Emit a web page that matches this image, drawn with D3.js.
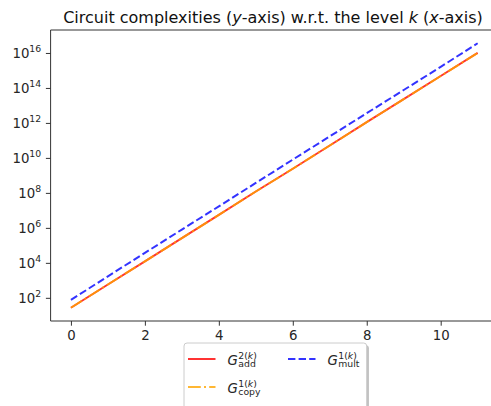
<!DOCTYPE html>
<html>
<head>
<meta charset="utf-8">
<script src="https://cdn.jsdelivr.net/npm/d3@7"></script>
<style>
  body { margin: 0; background: #fff; }
  svg { display: block; font-family: "DejaVu Sans", sans-serif; }
</style>
</head>
<body>
<svg id="chart" width="491" height="406"></svg>
<script>
// levels k on the x axis
const levels = [0, 1, 2, 3, 4, 5, 6, 7, 8, 9, 10, 11];

// circuit complexities
const gAdd  = [2.7e1, 5.8e2, 1.2e4, 2.6e5, 5.5e6, 1.2e8, 2.4e9, 5.1e10, 1.1e12, 2.3e13, 4.8e14, 1.0e16];
const gCopy = [2.7e1, 5.8e2, 1.2e4, 2.6e5, 5.5e6, 1.2e8, 2.4e9, 5.1e10, 1.1e12, 2.3e13, 4.8e14, 1.0e16];
const gMult = [7.6e1, 1.7e3, 3.7e4, 8.0e5, 1.7e7, 3.7e8, 8.0e9, 1.7e11, 3.6e12, 7.6e13, 1.6e15, 3.6e16];

const xTicks = [0, 2, 4, 6, 8, 10];
const yTickExps = [2, 4, 6, 8, 10, 12, 14, 16];

const svg = d3.select("#chart");

// axes box (right edge lies outside the picture, as in the original)
const margin = { left: 50.6, top: 30, right: 498, bottom: 321 };

// matplotlib style 5% padding
const xMin = d3.min(levels), xMax = d3.max(levels);
const xPad = (xMax - xMin) * 0.05;
const x = d3.scaleLinear()
  .domain([xMin - xPad, xMax + xPad])
  .range([margin.left, margin.right]);

const allY = gAdd.concat(gCopy, gMult);
const lyMin = Math.log10(d3.min(allY)), lyMax = Math.log10(d3.max(allY));
const lyPad = (lyMax - lyMin) * 0.05;
const y = d3.scaleLog()
  .domain([Math.pow(10, lyMin - lyPad), Math.pow(10, lyMax + lyPad)])
  .range([margin.bottom, margin.top]);

// series: add, copy, mult
const series = [
  { name: "add",  sup: "2(", values: gAdd,  color: "#ff0000", dash: null },
  { name: "copy", sup: "1(", values: gCopy, color: "#ffa500", dash: "12.8,3.2,2,3.2" },
  { name: "mult", sup: "1(", values: gMult, color: "#0000ff", dash: "7.4,3.2" }
];

const line = d3.line()
  .x((d, i) => x(levels[i]))
  .y(d => y(d));

const plot = svg.append("g");
plot.append("defs").append("clipPath").attr("id", "clip")
  .append("rect")
  .attr("x", margin.left).attr("y", margin.top)
  .attr("width", margin.right - margin.left)
  .attr("height", margin.bottom - margin.top);

const lineLayer = plot.append("g").attr("clip-path", "url(#clip)");
[series[0], series[2], series[1]].forEach(s => {
  lineLayer.append("path")
    .attr("d", line(s.values))
    .attr("fill", "none")
    .attr("stroke", s.color)
    .attr("stroke-opacity", 0.8)
    .attr("stroke-width", 2)
    .attr("stroke-dasharray", s.dash);
});

// spines
const spineColor = "#333";
[[margin.left, margin.top, margin.left, margin.bottom],
 [margin.left, margin.bottom, margin.right, margin.bottom],
 [margin.left, margin.top, margin.right, margin.top]].forEach(c => {
  plot.append("line")
    .attr("x1", c[0]).attr("y1", c[1]).attr("x2", c[2]).attr("y2", c[3])
    .attr("stroke", spineColor).attr("stroke-width", 1);
});

// x axis
const xAxis = d3.axisBottom(x).tickValues(xTicks).tickSize(4.7).tickPadding(4.7)
  .tickFormat(d3.format("d"));
const gx = svg.append("g")
  .attr("transform", `translate(0,${margin.bottom})`)
  .call(xAxis);
gx.select(".domain").remove();
gx.selectAll("line").attr("stroke", spineColor);
gx.selectAll("text").attr("fill", "#262626").attr("font-size", 13.3)
  .attr("font-family", "DejaVu Sans");

// y axis with 10^n labels
const yAxis = d3.axisLeft(y).tickValues(yTickExps.map(e => Math.pow(10, e)))
  .tickSize(4.7).tickPadding(4.7).tickFormat(() => "");
const gy = svg.append("g")
  .attr("transform", `translate(${margin.left},0)`)
  .call(yAxis);
gy.select(".domain").remove();
gy.selectAll("line").attr("stroke", spineColor);
gy.selectAll(".tick").each(function(d, i) {
  const t = d3.select(this).select("text")
    .attr("fill", "#262626")
    .attr("font-family", "DejaVu Sans")
    .attr("font-size", 13.3)
    .attr("dy", "0.32em");
  t.text(null);
  t.append("tspan").attr("font-size", 13.3).text("10");
  t.append("tspan").attr("font-size", 9.3).attr("dy", -6).text(yTickExps[i]);
});

// title
const title = svg.append("text")
  .attr("x", 273)
  .attr("y", 23)
  .attr("text-anchor", "middle")
  .attr("fill", "#111")
  .attr("font-size", 16);
title.append("tspan").text("Circuit complexities (");
title.append("tspan").attr("font-style", "italic").text("y");
title.append("tspan").text("-axis) w.r.t. the level ");
title.append("tspan").attr("font-style", "italic").text("k");
title.append("tspan").text(" (");
title.append("tspan").attr("font-style", "italic").text("x");
title.append("tspan").text("-axis)");

// legend below the axes
const legend = svg.append("g");
const lg = { x: 184, y: 343, w: 182.7, h: 80 };
legend.append("rect")
  .attr("x", lg.x + 2.2).attr("y", lg.y + 2.2)
  .attr("width", lg.w).attr("height", lg.h)
  .attr("rx", 3)
  .attr("fill", "#808080").attr("fill-opacity", 0.5);
legend.append("rect")
  .attr("x", lg.x).attr("y", lg.y)
  .attr("width", lg.w).attr("height", lg.h)
  .attr("rx", 3)
  .attr("fill", "#fff")
  .attr("stroke", "#cccccc").attr("stroke-width", 1);

const legendPos = [
  { s: series[0], hx: 188, hy: 359 },
  { s: series[2], hx: 288, hy: 359 },
  { s: series[1], hx: 188, hy: 387 }
];

legendPos.forEach(p => {
  legend.append("line")
    .attr("x1", p.hx).attr("x2", p.hx + 27.5)
    .attr("y1", p.hy).attr("y2", p.hy)
    .attr("stroke", p.s.color)
    .attr("stroke-opacity", 0.8)
    .attr("stroke-width", 2)
    .attr("stroke-dasharray", p.s.dash);

  const lx = p.hx + 39.5;
  const base = p.hy + 5.5;
  const gText = legend.append("text")
    .attr("x", lx).attr("y", base)
    .attr("fill", "#262626")
    .attr("font-size", 13.3)
    .attr("font-style", "italic")
    .text("G");
  const gw = gText.node().getComputedTextLength();
  const sup = legend.append("text")
    .attr("x", lx + gw + 0.5).attr("y", base - 6)
    .attr("fill", "#262626")
    .attr("font-size", 9.3);
  sup.append("tspan").text(p.s.sup);
  sup.append("tspan").attr("font-style", "italic").text("k");
  sup.append("tspan").text(")");
  legend.append("text")
    .attr("x", lx + gw + 0.5).attr("y", base + 2.6)
    .attr("fill", "#262626")
    .attr("font-size", 9.3)
    .text(p.s.name);
});
</script>
</body>
</html>
